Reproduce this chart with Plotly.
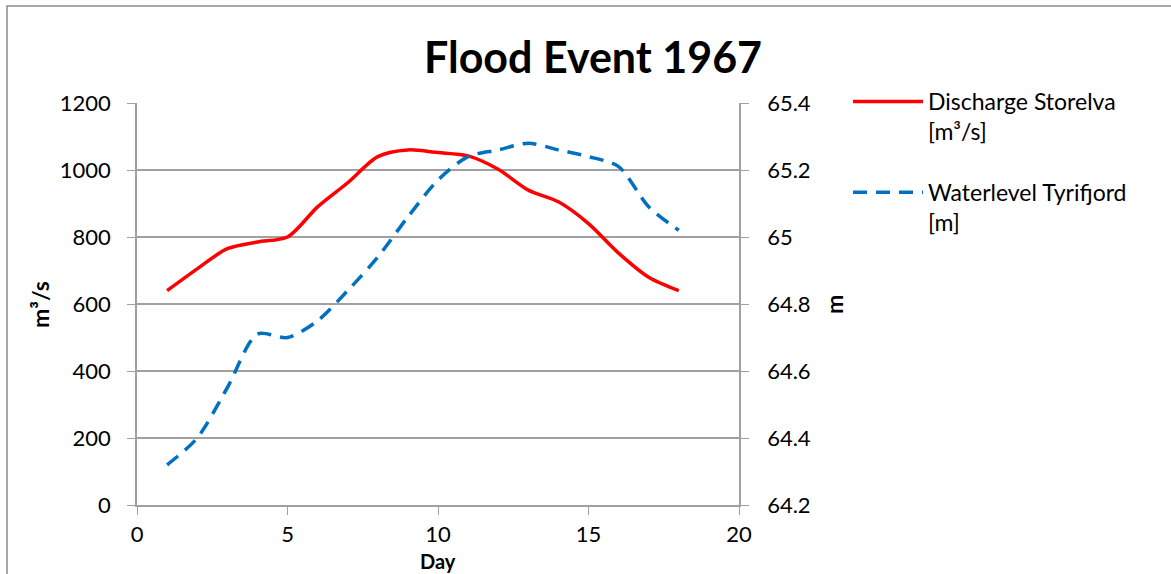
import plotly.graph_objects as go

days = list(range(1, 19))
discharge = [640, 705, 765, 785, 800, 890, 962, 1040, 1060, 1052, 1042, 1002, 940, 905, 840, 752, 680, 640]
waterlevel = [64.32, 64.40, 64.55, 64.71, 64.70, 64.75, 64.84, 64.94, 65.06, 65.17, 65.24, 65.26, 65.28, 65.26, 65.24, 65.21, 65.09, 65.02]

name1 = "Discharge Storelva<br>[m³/s]"
name2 = "Waterlevel Tyrifjord<br>[m]"

FONT = "Lato"
L, R, T, B = 137, 739, 103, 505
W, H = 1171, 574

px = lambda v: (v - L) / (R - L)
py = lambda v: (B - v) / (B - T)

fig = go.Figure()
fig.add_trace(go.Scatter(x=days, y=discharge, name=name1, mode="lines", legendgroup="a",
                         line=dict(color="#ff0000", width=3.5, shape="spline", smoothing=0.8)))
fig.add_trace(go.Scatter(x=days, y=waterlevel, name=name2, mode="lines", yaxis="y2", legendgroup="b",
                         line=dict(color="#0070c0", width=3.5, dash="14px,9px", shape="spline", smoothing=0.8)))

axcol = "#a0a0a0"
fig.update_layout(
    width=W, height=H,
    margin=dict(l=L, r=W - R, t=T, b=H - B),
    paper_bgcolor="white", plot_bgcolor="white",
    font=dict(family=FONT, size=22, color="#000000"),
    title=dict(text="<b>Flood Event 1967</b>", x=593 / W, xanchor="center",
               y=1 - 58 / H, yanchor="middle", font=dict(size=43, family=FONT)),
    xaxis=dict(range=[0, 20], tickvals=[0, 5, 10, 15, 20], showgrid=False, zeroline=False,
               showline=True, linecolor=axcol, linewidth=1.5, ticks="outside", ticklen=8,
               tickcolor=axcol, ticklabelstandoff=1, automargin=False),
    yaxis=dict(range=[0, 1200], tickvals=[0, 200, 400, 600, 800, 1000, 1200], showgrid=True,
               gridcolor=axcol, gridwidth=1.5, zeroline=False, showline=True, linecolor=axcol,
               linewidth=1.5, ticks="outside", ticklen=8, tickcolor=axcol, ticklabelstandoff=12,
               automargin=False),
    yaxis2=dict(range=[64.2, 65.4], tickvals=[64.2, 64.4, 64.6, 64.8, 65.0, 65.2, 65.4],
                ticktext=["64.2", "64.4", "64.6", "64.8", "65", "65.2", "65.4"],
                overlaying="y", side="right", showgrid=False, zeroline=False, showline=True,
                linecolor=axcol, linewidth=1.5, ticks="outside", ticklen=8, tickcolor=axcol,
                ticklabelstandoff=14, automargin=False),
    legend=dict(x=px(848), xanchor="left", y=py(80), yanchor="top",
                font=dict(size=23), tracegroupgap=28, traceorder="grouped", valign="top",
                itemwidth=70, bgcolor="rgba(0,0,0,0)"),
    showlegend=True,
)

# axis titles
fig.add_annotation(text="<b>Day</b>", xref="paper", yref="paper", x=px(438), y=py(561),
                   xanchor="center", yanchor="middle", showarrow=False, font=dict(size=20),
                   borderpad=0)
fig.add_annotation(text="<b>m³/s</b>", xref="paper", yref="paper", x=px(40), y=py(305),
                   xanchor="center", yanchor="middle", showarrow=False, textangle=-90,
                   font=dict(size=23))
fig.add_annotation(text="<b>m</b>", xref="paper", yref="paper", x=px(834), y=py(305),
                   xanchor="center", yanchor="middle", showarrow=False, textangle=-90,
                   font=dict(size=23))

# outer chart border (top and left visible)
fig.add_shape(type="rect", xref="paper", yref="paper",
              x0=px(7), x1=px(1180), y0=py(6), y1=py(590),
              line=dict(color="#8c8c8c", width=1.5), layer="below")

fig.write_html("out.html")
